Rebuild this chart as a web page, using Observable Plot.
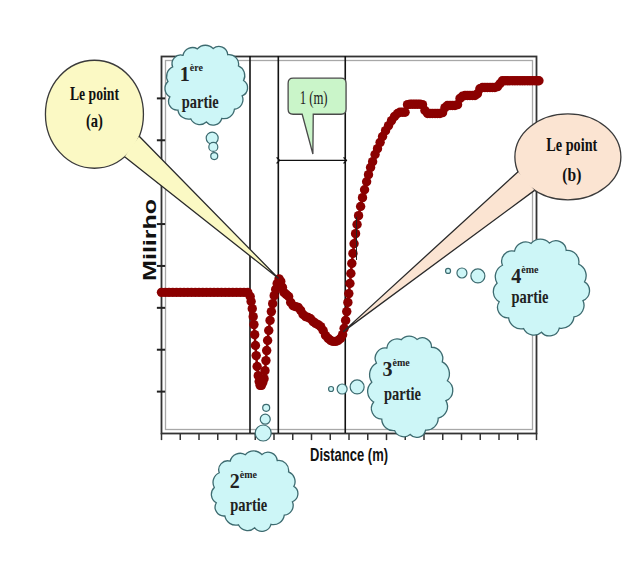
<!DOCTYPE html>
<html>
<head>
<meta charset="utf-8">
<script src="https://cdn.jsdelivr.net/npm/d3@7"></script>
<script src="https://cdn.jsdelivr.net/npm/@observablehq/plot@0.6"></script>
<style>
  body { margin: 0; background: #fff; }
  #chart svg { display: block; }
</style>
</head>
<body>
<div id="chart"></div>
<script>
// ---------- data (x and y in tick units) ----------
const distance = [
  0, 0.2, 0.4, 0.6, 0.8, 1.0, 1.2, 1.4, 1.6, 1.8, 2.0, 2.2, 2.4, 2.6, 2.8, 3.0, 3.2, 3.4, 3.6, 3.8, 4.0, 4.2, 4.4, 4.6,
  4.73, 4.78, 4.84, 4.89, 4.93, 4.97, 5.01, 5.05, 5.10, 5.16, 5.21, 5.26, 5.33, 5.40, 5.47, 5.52, 5.57, 5.61, 5.66,
  5.72, 5.79, 5.86, 5.93, 6.01, 6.09, 6.17, 6.27,
  6.36, 6.45, 6.53, 6.65, 6.78, 6.89, 7.02, 7.16, 7.29, 7.42, 7.55, 7.69, 7.82, 7.95, 8.09, 8.22, 8.35, 8.49, 8.62,
  8.75, 8.89, 9.02, 9.15, 9.29, 9.42, 9.55, 9.66, 9.74,
  9.82, 9.88, 9.94, 9.99, 10.05, 10.10, 10.15, 10.21, 10.27, 10.35, 10.43, 10.51, 10.62, 10.72, 10.83, 10.94, 11.04,
  11.15, 11.26, 11.39, 11.52, 11.66, 11.79, 11.95, 12.11, 12.27, 12.43, 12.59,
  12.72, 12.86, 12.99, 13.12, 13.26, 13.39, 13.52, 13.65, 13.79, 13.92, 14.05, 14.19, 14.32, 14.45, 14.59, 14.72,
  14.85, 14.99, 15.12, 15.25, 15.39, 15.52, 15.65, 15.79, 15.92, 16.05, 16.19, 16.32, 16.45, 16.59, 16.72, 16.85,
  16.98, 17.12, 17.25, 17.38, 17.52, 17.65, 17.78, 17.92, 18.05, 18.18, 18.32, 18.45, 18.58, 18.72, 18.85, 18.98,
  19.12, 19.25, 19.38, 19.52, 19.65, 19.78, 19.92, 20.05, 20.13
];
const milirho = [
  3.37, 3.37, 3.37, 3.37, 3.37, 3.37, 3.37, 3.37, 3.37, 3.37, 3.37, 3.37, 3.37, 3.37, 3.37, 3.37, 3.37, 3.37, 3.37, 3.37, 3.37, 3.37, 3.37, 3.37,
  3.27, 3.15, 2.98, 2.79, 2.60, 2.36, 2.10, 1.86, 1.60, 1.38, 1.24, 1.15, 1.15, 1.22, 1.31, 1.50, 1.74, 1.98, 2.22,
  2.46, 2.70, 2.91, 3.10, 3.29, 3.44, 3.58, 3.69,
  3.63, 3.49, 3.37, 3.32, 3.27, 3.13, 3.05, 3.03, 3.01, 2.94, 2.84, 2.79, 2.77, 2.74, 2.67, 2.63, 2.60, 2.55, 2.46,
  2.34, 2.27, 2.22, 2.20, 2.20, 2.22, 2.27, 2.36, 2.51,
  2.70, 2.91, 3.13, 3.34, 3.58, 3.82, 4.06, 4.30, 4.53, 4.77, 4.99, 5.20, 5.42, 5.63, 5.82, 6.01, 6.18,
  6.35, 6.49, 6.66, 6.80, 6.95, 7.09, 7.23, 7.35, 7.47, 7.57, 7.64,
  7.67, 7.67, 7.67, 7.85, 7.86, 7.86, 7.86, 7.86, 7.86, 7.85, 7.71, 7.64, 7.64, 7.64, 7.64, 7.64,
  7.64, 7.66, 7.78, 7.83, 7.83, 7.83, 7.83, 7.85, 8.00, 8.05, 8.07, 8.07, 8.07, 8.07, 8.07, 8.11,
  8.23, 8.26, 8.26, 8.26, 8.26, 8.26, 8.26, 8.28, 8.35, 8.42, 8.42, 8.42, 8.42, 8.42, 8.42, 8.42,
  8.42, 8.42, 8.42, 8.42, 8.42, 8.42, 8.42, 8.42, 8.42
];
const xTicks = [0, 1, 2, 3, 4, 5, 6, 7, 8, 9, 10, 11, 12, 13, 14, 15, 16, 17, 18, 19, 20];
const yTicks = [1, 2, 3, 4, 5, 6, 7, 8];
const partLines = [4.72, 6.23, 9.80];           // boundaries between the "parties"
const meterSpan = [6.23, 9.80];                 // the "1 (m)" arrow
const meterArrowY = 6.52;
const cursorMark = [10.40];                     // small black mark on the rising curve
const pointA = [6.27, 3.69];
const pointB = [9.72, 2.42];
const xLabel = "Distance (m)";
const yLabel = "Milirho";

// annotation layout (data units; sizes in px)
const clouds = [
  {cx: 2.39, cy: 8.31, rx: 43, ry: 42, num: "1", sup: "ère", numX: 1.62, numY: 8.40, txtX: 2.09, txtY: 7.76,
   bubbles: [[2.73, 7.04, 6], [2.79, 6.83, 4.5], [2.84, 6.61, 3.5]]},
  {cx: 4.97, cy: -1.38, rx: 45, ry: 42, num: "2", sup: "ème", numX: 4.39, numY: -1.31, txtX: 4.68, txtY: -1.86,
   bubbles: [[5.45, 0.0, 8], [5.56, 0.33, 5], [5.61, 0.60, 3.5]]},
  {cx: 13.26, cy: 1.11, rx: 43, ry: 53, num: "3", sup: "ème", numX: 12.54, numY: 1.36, txtX: 12.88, txtY: 0.79,
   bubbles: [[10.46, 1.10, 7], [9.66, 1.05, 5], [9.07, 1.05, 2.5]]},
  {cx: 20.26, cy: 3.48, rx: 49, ry: 50, num: "4", sup: "ème", numX: 19.41, numY: 3.58, txtX: 19.68, txtY: 3.10,
   bubbles: [[16.90, 3.75, 7], [16.05, 3.82, 5], [15.31, 3.87, 2.5]]}
];
const bubbleA = {cx: -3.55, cy: 7.61, rx: 49, ry: 54, a0: 24, a1: 52, fill: "#fbf9c4",
  l1: "Le point", l1y: 7.95, l2: "(a)", l2y: 7.30, tx: -3.55, w1: 49, w2: 17, tip: pointA};
const bubbleB = {cx: 21.70, cy: 6.59, rx: 53, ry: 43, a0: 129, a1: 160, fill: "#fbe4d2",
  l1: "Le point", l1y: 6.73, l2: "(b)", l2y: 6.01, tx: 21.91, w1: 51, w2: 19, tip: pointB};
const callout = {x1: 6.78, x2: 9.87, y1: 8.47, y2: 7.61, b1: 7.53, b2: 8.12, tipX: 8.10, tipY: 6.66,
  text: "1 (m)", tx: 8.14, ty: 7.85};

const rows = distance.map((d, i) => ({d, m: milirho[i]}));
const RED = "#8B0000";

const plot = Plot.plot({
  width: 636,
  height: 570,
  marginLeft: 161,
  marginRight: 100,
  marginTop: 56,
  marginBottom: 137,
  x: {domain: [0, 20], axis: null},
  y: {domain: [0, 9], axis: null},
  marks: [
    Plot.frame({stroke: "#a8a8a8", strokeWidth: 1.3, inset: 4}),
    Plot.frame({stroke: "#333", strokeWidth: 1.8}),
    Plot.ruleY(yTicks, {x1: -0.22, x2: 0.22, stroke: "#222", strokeWidth: 2}),
    Plot.ruleX(xTicks, {y1: 0, y2: -0.17, stroke: "#333", strokeWidth: 1.5}),
    Plot.ruleX(partLines, {y1: 0, y2: 9, stroke: "#111", strokeWidth: 1.6}),
    Plot.line(rows, {x: "d", y: "m", stroke: RED, strokeWidth: 2.5}),
    Plot.dot(rows, {x: "d", y: "m", r: 4.7, fill: RED}),
    Plot.ruleX(cursorMark, {y1: 4.13, y2: 5.16, stroke: "#222", strokeWidth: 1}),
    Plot.link([meterSpan], {x1: d => d[0], x2: d => d[1], y1: () => meterArrowY, y2: () => meterArrowY,
      stroke: "#111", strokeWidth: 1.3, markerStart: "arrow", markerEnd: "arrow"})
  ]
});
document.getElementById("chart").appendChild(plot);

// ---------- annotations ----------
const sx = plot.scale("x"), sy = plot.scale("y");
const X = v => sx.apply(v), Y = v => sy.apply(v);
const svg = d3.select(plot);
const deco = svg.append("g");
const SERIF = "'Liberation Serif', 'Times New Roman', serif";
const SANS = "'Liberation Sans', Arial, sans-serif";

function addText(g, x, y, str, {size = 16, weight = "bold", family = SERIF, length, anchor = "middle", fill = "#111"} = {}) {
  const t = g.append("text").attr("x", x).attr("y", y).attr("text-anchor", anchor)
    .attr("font-family", family).attr("font-size", size).attr("font-weight", weight).attr("fill", fill).text(str);
  if (length) t.attr("textLength", length).attr("lengthAdjust", "spacingAndGlyphs");
  return t;
}

function cloudPath(cx, cy, rx, ry, n) {
  const pad = 5;
  const ix = rx - pad, iy = ry - pad;
  const pts = [];
  for (let i = 0; i <= n; i++) {
    const t = (i / n) * 2 * Math.PI + 0.3;
    pts.push([cx + ix * Math.cos(t), cy + iy * Math.sin(t)]);
  }
  let d = `M${pts[0][0]},${pts[0][1]}`;
  for (let i = 1; i <= n; i++) {
    const [x0, y0] = pts[i - 1], [x1, y1] = pts[i];
    const c = Math.hypot(x1 - x0, y1 - y0);
    const r = c * (0.56 + 0.06 * (i % 3));
    d += `A${r},${r} 0 0 1 ${x1},${y1}`;
  }
  return d + "Z";
}

function speech(b) {
  const g = deco.append("g");
  const cx = X(b.cx), cy = Y(b.cy);
  const tx = X(b.tip[0]), ty = Y(b.tip[1]);
  const r0 = b.a0 * Math.PI / 180, r1 = b.a1 * Math.PI / 180;
  const p0 = [cx + b.rx * Math.cos(r0), cy + b.ry * Math.sin(r0)];
  const p1 = [cx + b.rx * Math.cos(r1), cy + b.ry * Math.sin(r1)];
  g.append("ellipse").attr("cx", cx).attr("cy", cy).attr("rx", b.rx).attr("ry", b.ry)
    .attr("fill", b.fill).attr("stroke", "#3a3a3a").attr("stroke-width", 1.3);
  g.append("path").attr("d", `M${p0}L${tx},${ty}L${p1}Z`).attr("fill", b.fill);
  g.append("path").attr("d", `M${p0}L${tx},${ty}L${p1}`).attr("fill", "none")
    .attr("stroke", "#2a2a2a").attr("stroke-width", 1.3);
  addText(g, X(b.tx), Y(b.l1y), b.l1, {size: 19, length: b.w1});
  addText(g, X(b.tx), Y(b.l2y), b.l2, {size: 19, length: b.w2});
}
speech(bubbleA);
speech(bubbleB);

for (const c of clouds) {
  const g = deco.append("g");
  for (const [bx, by, br] of c.bubbles) {
    g.append("circle").attr("cx", X(bx)).attr("cy", Y(by)).attr("r", br)
      .attr("fill", "#cdf6f7").attr("stroke", "#3d6b70").attr("stroke-width", 1.2);
  }
  g.append("path").attr("d", cloudPath(X(c.cx), Y(c.cy), c.rx, c.ry, 15))
    .attr("fill", "#cdf6f7").attr("stroke", "#3d6b70").attr("stroke-width", 1.3);
  const t = g.append("text").attr("x", X(c.numX)).attr("y", Y(c.numY)).attr("text-anchor", "middle")
    .attr("font-family", SERIF).attr("font-weight", "bold").attr("fill", "#222");
  t.append("tspan").attr("font-size", 20).text(c.num);
  t.append("tspan").attr("font-size", 10).attr("dy", -10).text(c.sup);
  addText(g, X(c.txtX), Y(c.txtY), "partie", {size: 19, length: 37, fill: "#222"});
}

// "1 (m)" callout
{
  const c = callout;
  const g = deco.append("g");
  const x1 = X(c.x1), x2 = X(c.x2), y1 = Y(c.y1), y2 = Y(c.y2);
  const b1 = X(c.b1), b2 = X(c.b2), tx = X(c.tipX), ty = Y(c.tipY);
  const r = 5;
  const d = `M${x1 + r},${y1}H${x2 - r}Q${x2},${y1} ${x2},${y1 + r}V${y2 - r}Q${x2},${y2} ${x2 - r},${y2}` +
    `H${b2}L${tx},${ty}L${b1},${y2}H${x1 + r}Q${x1},${y2} ${x1},${y2 - r}V${y1 + r}Q${x1},${y1} ${x1 + r},${y1}Z`;
  g.append("path").attr("d", d).attr("fill", "#caf5c9").attr("stroke", "#4a4a4a").attr("stroke-width", 1.3);
  addText(g, X(c.tx), Y(c.ty), c.text, {size: 19, weight: "normal", length: 28, fill: "#222"});
}

// axis titles
addText(deco, X(10.03), Y(-0.67), xLabel, {size: 19, family: SANS, length: 78, fill: "#111"});
{
  const x = X(-0.57), y = Y(4.61);
  addText(deco, 0, 0, yLabel, {size: 18, family: SANS, length: 82, fill: "#111"})
    .attr("transform", `translate(${x + 6},${y}) rotate(-90)`);
}
</script>
</body>
</html>
